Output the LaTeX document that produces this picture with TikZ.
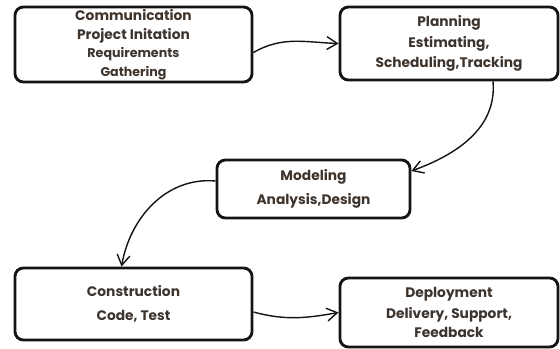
\documentclass[tikz,border=0pt]{standalone}
\usepackage{fontspec}
\setmainfont{Poppins}
\usetikzlibrary{arrows.meta}
\definecolor{SdlcInk}{RGB}{20,20,20}
\definecolor{SdlcText}{RGB}{62,52,46}
\tikzset{
  sdlc/box/.style={
    draw=SdlcInk,
    line width=2pt,
    rounded corners=6pt,
    fill=white,
    align=center,
    text=SdlcText,
    inner sep=0pt,
    font=\fontsize{9.8}{13}\selectfont\bfseries
  },
  sdlc/arrow/.style={-{Straight Barb[length=2.6mm,width=3.2mm]}, line width=1pt, draw=SdlcInk}
}
\begin{document}
\begin{tikzpicture}[x=0.025cm,y=-0.025cm]
  \useasboundingbox (0,0) rectangle (560,349);
  \node[sdlc/box,minimum width=5.925cm,minimum height=1.875cm] (comm) at (133.5,44.5)
    {Communication\\[0.5pt]Project Initation\\{\fontsize{9}{12}\selectfont Requirements}\\[0.5pt]{\fontsize{9}{12}\selectfont Gathering}};
  \node[sdlc/box,minimum width=5.45cm,minimum height=1.825cm] (plan) at (449,43.5)
    {Planning\\[2pt]Estimating,\\[1.5pt]Scheduling,Tracking};
  \node[sdlc/box,minimum width=4.825cm,minimum height=1.45cm] (model) at (313.5,189)
    {Modeling\\[4pt]Analysis,Design};
  \node[sdlc/box,minimum width=5.925cm,minimum height=1.8cm] (constr) at (133.5,304)
    {Construction\\[4pt]Code, Test};
  \node[sdlc/box,minimum width=5.45cm,minimum height=1.725cm] (deploy) at (449,312.5)
    {Deployment\\[1.5pt]Delivery, Support,\\[0.5pt]Feedback};
  \draw[sdlc/arrow] ([yshift=-0.2cm]comm.east) to[out=30,in=178] ([yshift=0cm]plan.west);
  \draw[sdlc/arrow] ([xshift=1.1cm]plan.south) to[out=-85,in=20] ([yshift=0.45cm]model.east);
  \draw[sdlc/arrow] ([yshift=0.2cm]model.west) to[out=175,in=80] ([xshift=-0.3cm]constr.north);
  \draw[sdlc/arrow] ([yshift=-0.2cm]constr.east) to[out=-15,in=190] ([yshift=0cm]deploy.west);
\end{tikzpicture}
\end{document}
